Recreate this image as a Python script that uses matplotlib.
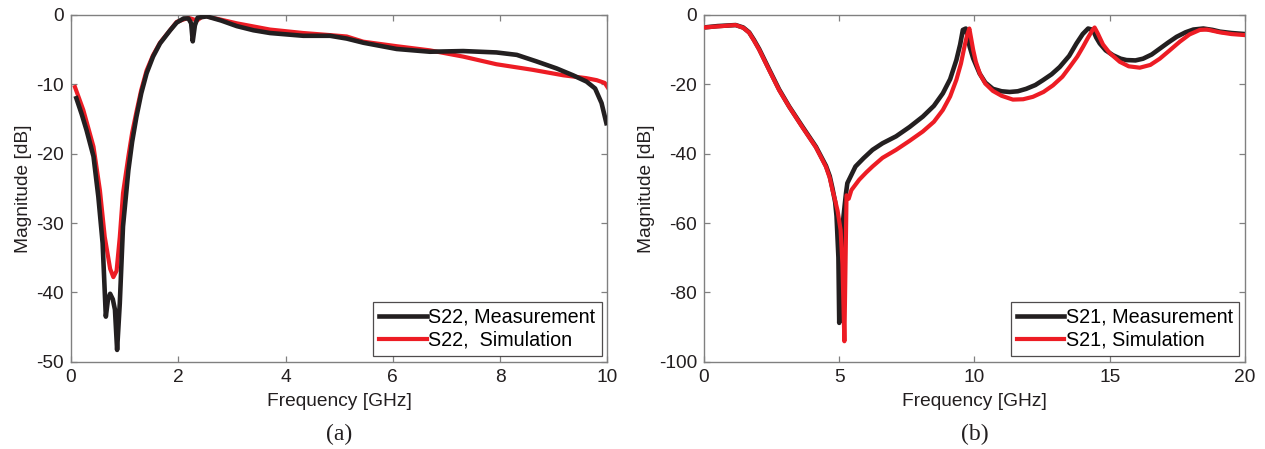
import matplotlib
matplotlib.use('Agg')
import matplotlib.pyplot as plt

C_MEAS, C_SIM, C_FRAME, C_TEXT = "#231f20", "#ed1c24", "#808080", "#231f20"

# (a) S22, frecuencia en GHz, magnitud en dB
s22_meas_f = [0.10, 0.20, 0.29, 0.42, 0.51, 0.59, 0.65, 0.69, 0.73, 0.78, 0.82, 0.86,
              0.91, 0.97, 1.07, 1.14, 1.22, 1.31, 1.41, 1.53, 1.66, 1.85, 1.97, 2.10,
              2.19, 2.24, 2.27, 2.31, 2.36, 2.53, 2.80, 3.09, 3.40, 3.71, 4.33, 4.83,
              5.14, 5.45, 6.07, 6.69, 7.31, 7.93, 8.31, 8.68, 9.05, 9.36, 9.61, 9.77,
              9.89, 9.98]
s22_meas_db = [-12.0, -14.3, -16.6, -20.4, -26.2, -32.9, -43.5, -41.0, -40.2, -41.0, -42.5, -48.3,
               -41.6, -30.5, -22.4, -18.3, -14.7, -11.3, -8.4, -6.0, -4.1, -2.2, -1.1, -0.5,
               -0.5, -1.2, -3.8, -1.5, -0.4, -0.2, -0.8, -1.6, -2.2, -2.6, -3.0, -3.0,
               -3.4, -4.0, -4.9, -5.3, -5.2, -5.4, -5.75, -6.7, -7.7, -8.7, -9.6, -10.6,
               -12.7, -15.6]
s22_sim_f = [0.075, 0.23, 0.42, 0.54, 0.63, 0.73, 0.79, 0.85, 0.91, 0.97, 1.07, 1.14,
             1.22, 1.31, 1.41, 1.53, 1.66, 1.97, 2.19, 2.35, 2.45, 2.53, 3.09, 3.71,
             4.33, 4.83, 5.14, 5.45, 6.07, 6.69, 7.31, 7.93, 8.60, 9.18, 9.60, 9.80,
             9.95, 10.0]
s22_sim_db = [-10.4, -13.7, -19.0, -25.3, -32.0, -36.6, -37.8, -36.9, -32.0, -25.7, -20.4, -17.0,
              -14.0, -10.8, -8.0, -5.8, -4.0, -1.0, -0.4, -0.8, -0.2, -0.2, -1.2, -2.1,
              -2.6, -2.9, -3.1, -3.85, -4.5, -5.1, -6.0, -7.1, -7.9, -8.7, -9.1, -9.4,
              -9.8, -10.4]

# (b) S21
s21_meas_f = [0.0, 0.5, 1.17, 1.45, 1.67, 1.85, 2.04, 2.41, 2.78, 3.15, 3.64, 4.14, 4.51,
              4.65, 4.75, 4.85, 4.90, 4.97, 5.00, 5.05, 5.12, 5.20, 5.25, 5.30, 5.60, 5.90,
              6.23, 6.60, 7.10, 7.60, 8.09, 8.50, 8.83, 9.10, 9.33, 9.47, 9.57, 9.68, 9.75,
              9.82, 9.95, 10.19, 10.4, 10.68, 11.0, 11.3, 11.6, 11.91, 12.25, 12.53, 12.85,
              13.15, 13.5, 13.77, 14.0, 14.2, 14.38, 14.5, 14.63, 14.85, 15.12, 15.4, 15.62,
              15.95, 16.23, 16.55, 16.85, 17.15, 17.47, 17.8, 18.09, 18.46, 18.8, 19.07,
              19.5, 20.0]
s21_meas_db = [-3.6, -3.2, -2.9, -3.6, -5.0, -7.2, -9.8, -15.7, -21.5, -26.4, -32.2, -38.0, -43.5,
               -46.5, -50.0, -54.0, -58.0, -70.0, -88.8, -75.0, -61.0, -55.0, -51.4, -48.5, -43.7, -41.3,
               -38.9, -37.0, -35.0, -32.3, -29.3, -26.2, -22.6, -18.5, -13.0, -8.5, -4.3, -3.9, -6.5,
               -9.1, -12.5, -16.9, -19.5, -21.3, -22.0, -22.2, -22.0, -21.3, -20.2, -18.8, -17.1,
               -15.0, -11.8, -8.2, -5.5, -3.9, -4.3, -6.5, -8.2, -10.2, -11.6, -12.6, -13.0,
               -13.1, -12.6, -11.4, -9.7, -8.0, -6.3, -5.0, -4.2, -3.9, -4.3, -4.8,
               -5.2, -5.5]
s21_sim_f = [0.0, 0.5, 1.17, 1.45, 1.67, 1.85, 2.04, 2.41, 2.78, 3.15, 3.64, 4.14, 4.51,
             4.65, 4.75, 4.85, 4.94, 5.05, 5.12, 5.19, 5.27, 5.35, 5.45, 5.74, 6.00, 6.23,
             6.60, 7.10, 7.60, 8.09, 8.50, 8.83, 9.10, 9.33, 9.50, 9.63, 9.72, 9.81, 9.87,
             9.95, 10.05, 10.2, 10.4, 10.68, 11.0, 11.42, 11.8, 12.16, 12.55, 12.9, 13.25,
             13.52, 13.8, 14.01, 14.2, 14.35, 14.44, 14.55, 14.75, 15.0, 15.37, 15.7, 16.11,
             16.5, 16.85, 17.2, 17.59, 17.95, 18.33, 18.6, 19.07, 19.5, 20.0]
s21_sim_db = [-3.6, -3.3, -2.9, -3.7, -5.1, -7.4, -10.0, -15.9, -21.7, -26.5, -32.4, -38.2, -43.8,
              -47.0, -50.5, -53.5, -56.5, -62.0, -72.0, -94.1, -52.0, -53.0, -50.5, -47.5, -45.4, -43.7,
              -41.2, -38.9, -36.3, -33.6, -30.8, -27.4, -23.5, -18.7, -14.0, -9.1, -6.0, -3.9, -6.5,
              -10.0, -13.5, -17.0, -19.8, -21.9, -23.3, -24.4, -24.3, -23.6, -22.2, -20.3, -17.8,
              -15.0, -12.0, -9.2, -6.5, -4.5, -3.6, -5.2, -8.5, -11.0, -13.5, -14.8, -15.2,
              -14.4, -12.6, -10.3, -7.7, -5.6, -4.3, -4.2, -5.0, -5.5, -5.8]

plt.rcParams['font.family'] = ['Liberation Sans', 'DejaVu Sans']
plt.rcParams['font.size'] = 13.8
plt.rcParams['axes.unicode_minus'] = False

fig = plt.figure(figsize=(12.65, 4.49), dpi=100)
ax_a = fig.add_axes([0.0561, 0.1944, 0.4241, 0.7722])
ax_b = fig.add_axes([0.5565, 0.1944, 0.4277, 0.7722])


def style(ax):
    for s in ax.spines.values():
        s.set_color(C_FRAME)
        s.set_linewidth(1.0)
    ax.tick_params(direction='in', length=4, width=0.9, color=C_FRAME,
                   top=True, right=True, labelcolor=C_TEXT, pad=5)
    ax.set_xlabel('Frequency [GHz]', color=C_TEXT, labelpad=5)
    ax.set_ylabel('Magnitude [dB]', color=C_TEXT, labelpad=3)


def legend(ax, handles, labels):
    leg = ax.legend(handles, labels, loc='lower right', fancybox=False,
                    edgecolor=C_TEXT, fontsize=14.2, handlelength=2.4,
                    handletextpad=0.1, borderaxespad=0.3, borderpad=0.3,
                    labelspacing=0.2)
    leg.get_frame().set_linewidth(0.9)


# (a): medida encima de la simulación
ax_a.plot(s22_sim_f, s22_sim_db, color=C_SIM, lw=3.0, solid_joinstyle='round',
          label='S22,  Simulation', zorder=2)
ax_a.plot(s22_meas_f, s22_meas_db, color=C_MEAS, lw=3.3, solid_joinstyle='round',
          label='S22, Measurement', zorder=3)
ax_a.set_xlim(0, 10)
ax_a.set_ylim(-50, 0)
ax_a.set_xticks([0, 2, 4, 6, 8, 10])
ax_a.set_yticks([-50, -40, -30, -20, -10, 0])
style(ax_a)
h, l = ax_a.get_legend_handles_labels()
legend(ax_a, h[::-1], l[::-1])

# (b): simulación encima de la medida
ax_b.plot(s21_meas_f, s21_meas_db, color=C_MEAS, lw=3.3, solid_joinstyle='round',
          label='S21, Measurement', zorder=2)
ax_b.plot(s21_sim_f, s21_sim_db, color=C_SIM, lw=3.0, solid_joinstyle='round',
          label='S21, Simulation', zorder=3)
ax_b.set_xlim(0, 20)
ax_b.set_ylim(-100, 0)
ax_b.set_xticks([0, 5, 10, 15, 20])
ax_b.set_yticks([-100, -80, -60, -40, -20, 0])
style(ax_b)
legend(ax_b, *ax_b.get_legend_handles_labels())

for ax, tag in ((ax_a, '(a)'), (ax_b, '(b)')):
    ax.text(0.5, -0.21, tag, transform=ax.transAxes, ha='center', va='center',
            family=['Liberation Serif', 'DejaVu Serif'], fontsize=17, color=C_TEXT)

fig.savefig('out.png', dpi=100)
